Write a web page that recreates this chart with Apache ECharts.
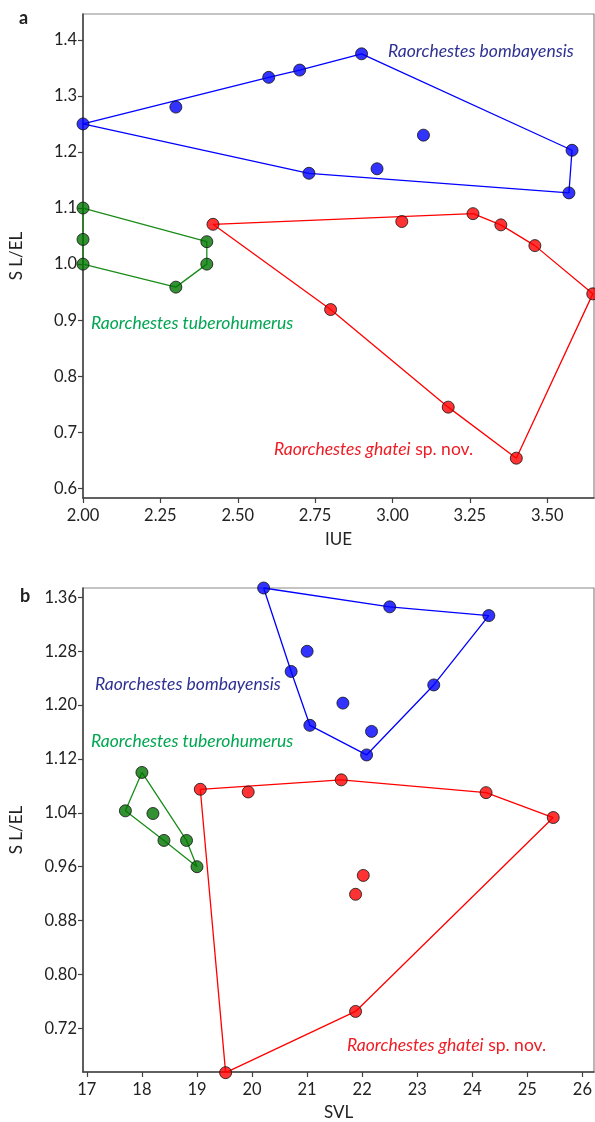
<!DOCTYPE html>
<html>
<head>
<meta charset="utf-8">
<script src="https://cdn.jsdelivr.net/npm/echarts@6/dist/echarts.min.js"></script>
<style>
  html, body { margin: 0; padding: 0; background: #fff; }
  #chart { width: 595px; height: 1122px; }
</style>
</head>
<body>
<div id="chart"></div>
<script>
// ---------- Panel a: IUE vs S L/EL ----------
const bombayA = [[2.00,1.250],[2.30,1.280],[2.60,1.333],[2.70,1.346],[2.90,1.375],[3.58,1.203],[3.57,1.127],[2.73,1.162],[2.95,1.170],[3.10,1.230]];
const bombayAHull = [0,2,3,4,5,6,7,0];
const tuberA = [[2.00,1.100],[2.00,1.044],[2.00,1.000],[2.40,1.040],[2.40,1.000],[2.30,0.959]];
const tuberAHull = [0,3,4,5,2,1,0];
const ghateiA = [[2.42,1.071],[3.03,1.076],[3.26,1.090],[3.35,1.070],[3.46,1.033],[3.647,0.947],[2.80,0.919],[3.18,0.745],[3.40,0.654]];
const ghateiAHull = [0,2,3,4,5,8,7,6,0];
const xTicksA = [2.00,2.25,2.50,2.75,3.00,3.25,3.50];
const yTicksA = [0.6,0.7,0.8,0.9,1.0,1.1,1.2,1.3,1.4];

// ---------- Panel b: SVL vs S L/EL ----------
const bombayB = [[20.21,1.374],[22.50,1.346],[24.30,1.333],[23.30,1.230],[22.08,1.126],[21.05,1.170],[20.71,1.250],[21.00,1.280],[21.65,1.203],[22.17,1.161]];
const bombayBHull = [0,1,2,3,4,5,6,0];
const tuberB = [[18.00,1.100],[17.70,1.043],[18.20,1.039],[18.40,0.999],[18.81,0.999],[19.00,0.960]];
const tuberBHull = [0,4,5,3,1,0];
const ghateiB = [[19.06,1.075],[19.93,1.071],[21.62,1.089],[24.25,1.070],[25.47,1.033],[21.88,0.745],[19.52,0.654],[22.02,0.947],[21.88,0.919]];
const ghateiBHull = [0,2,3,4,5,6,0];
const xTicksB = [17,18,19,20,21,22,23,24,25,26];
const yTicksB = [0.72,0.80,0.88,0.96,1.04,1.12,1.20,1.28,1.36];

const speciesNames = ['Raorchestes bombayensis','Raorchestes tuberohumerus','Raorchestes ghatei'];

const FONT = 'Lato, "Open Sans", sans-serif';
const COL = { blue:'#0000ff', green:'#007400', red:'#ff0000' };
const LINECOL = { blue:'#0000ff', green:'#1a8c1a', red:'#ff0000' };
const TXTCOL = { blue:'#2e3192', green:'#00a651', red:'#ed1c24' };

function hullPath(pts, idx){ return idx.map(i => pts[i]); }

function axisX(gi, min, max, ticks, name, dec, gap){
  return {
    type:'value', gridIndex:gi, min:min, max:max, name:name, nameLocation:'middle', nameGap:gap,
    nameTextStyle:{ fontFamily:FONT, fontSize:17, color:'#222' },
    axisLine:{ show:true, lineStyle:{ color:'#404040', width:1.5 } },
    axisTick:{ show:true, length:5, customValues:ticks, lineStyle:{ color:'#404040', width:1.2 } },
    axisLabel:{ customValues:ticks, fontFamily:FONT, fontSize:16.5, color:'#222', margin:9,
      formatter: v => Number(v).toFixed(dec) },
    splitLine:{ show:false }
  };
}
function axisY(gi, min, max, ticks, dec){
  return {
    type:'value', gridIndex:gi, min:min, max:max, name:'S L/EL', nameLocation:'middle', nameGap:58,
    nameRotate:90,
    nameTextStyle:{ fontFamily:FONT, fontSize:17, color:'#222' },
    axisLine:{ show:true, lineStyle:{ color:'#404040', width:1.5 } },
    axisTick:{ show:true, length:5, customValues:ticks, lineStyle:{ color:'#404040', width:1.2 } },
    axisLabel:{ customValues:ticks, fontFamily:FONT, fontSize:16.5, color:'#222', margin:6,
      formatter: v => Number(v).toFixed(dec) },
    splitLine:{ show:false }
  };
}
function lineS(gi, data, c){
  return { type:'line', xAxisIndex:gi, yAxisIndex:gi, data:data, symbol:'none', clip:false, z:2,
    lineStyle:{ color:c, width:1.3 }, silent:true, animation:false };
}
function scatS(gi, data, c){
  return { type:'scatter', xAxisIndex:gi, yAxisIndex:gi, data:data, symbolSize:12, clip:false, z:3,
    itemStyle:{ color:c, borderColor:'#111', borderWidth:1 }, animation:false };
}

const chart = echarts.init(document.getElementById('chart'), null, { renderer:'canvas' });
const option = {
  backgroundColor:'#fff',
  animation:false,
  grid:[
    { left:83, top:14, width:511, height:484, show:true, borderColor:'#8a8a8a', borderWidth:1.2, backgroundColor:'transparent' },
    { left:83, top:588, width:511, height:485, show:true, borderColor:'#8a8a8a', borderWidth:1.2, backgroundColor:'transparent' }
  ],
  xAxis:[ axisX(0, 2.0, 3.651, xTicksA, 'IUE', 2, 33), axisX(1, 16.93, 26.21, xTicksB, 'SVL', 0, 32) ],
  yAxis:[ axisY(0, 0.583, 1.446, yTicksA, 1), axisY(1, 0.655, 1.374, yTicksB, 2) ],
  series:[
    lineS(0, hullPath(bombayA, bombayAHull), LINECOL.blue),
    lineS(0, hullPath(tuberA, tuberAHull), LINECOL.green),
    lineS(0, hullPath(ghateiA, ghateiAHull), LINECOL.red),
    scatS(0, bombayA, COL.blue),
    scatS(0, tuberA, COL.green),
    scatS(0, ghateiA, COL.red),
    lineS(1, hullPath(bombayB, bombayBHull), LINECOL.blue),
    lineS(1, hullPath(tuberB, tuberBHull), LINECOL.green),
    lineS(1, hullPath(ghateiB, ghateiBHull), LINECOL.red),
    scatS(1, bombayB, COL.blue),
    scatS(1, tuberB, COL.green),
    scatS(1, ghateiB, COL.red)
  ],
  graphic:[]
};

function speciesText(x, y, text, color){
  return { type:'text', left:x, top:y - 11, z:10, silent:true,
    style:{ text:text, fill:color, font:'italic 17.5px ' + FONT } };
}
function ghateiText(x, y){
  return { type:'text', left:x, top:y - 11, z:10, silent:true,
    style:{ text:'{i|' + speciesNames[2] + '}{n| sp. nov.}',
      rich:{ i:{ fill:TXTCOL.red, fontStyle:'italic', fontSize:17.5, fontFamily:FONT },
             n:{ fill:TXTCOL.red, fontSize:17.5, fontFamily:FONT } } } };
}
option.graphic = [
  { type:'text', left:19, top:9, style:{ text:'a', font:'bold 18px ' + FONT, fill:'#222' } },
  { type:'text', left:20, top:587, style:{ text:'b', font:'bold 18px ' + FONT, fill:'#222' } },
  speciesText(388, 53, speciesNames[0], TXTCOL.blue),
  speciesText(91, 325, speciesNames[1], TXTCOL.green),
  ghateiText(274, 451),
  speciesText(95, 686, speciesNames[0], TXTCOL.blue),
  speciesText(91, 743, speciesNames[1], TXTCOL.green),
  ghateiText(347, 1047)
];
chart.setOption(option);
</script>
</body>
</html>
